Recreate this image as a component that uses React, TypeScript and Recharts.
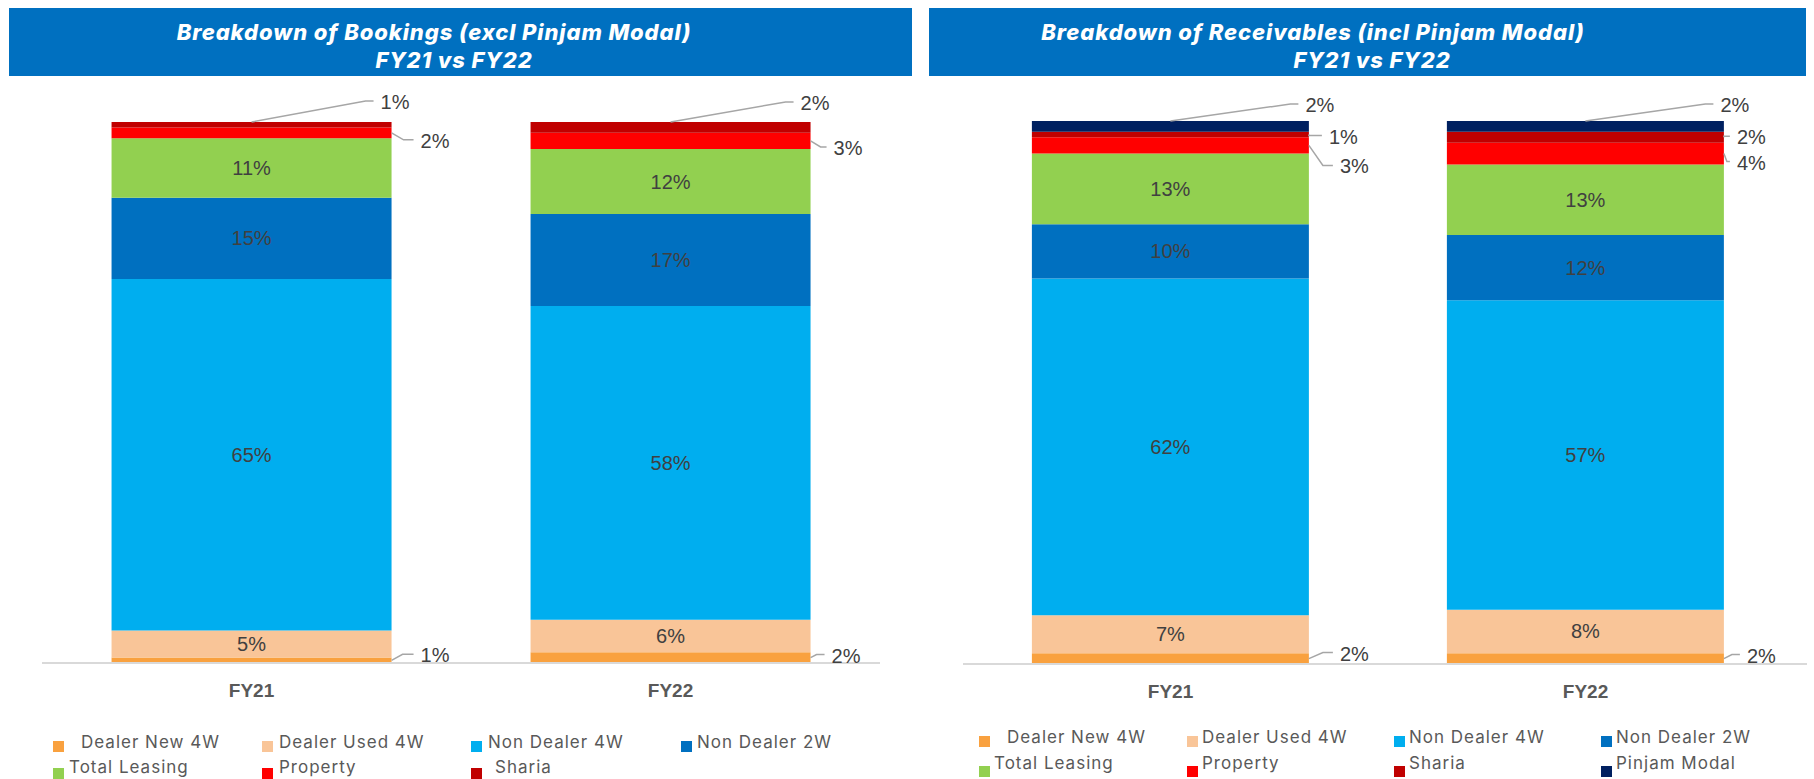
import React from "react";
import { BarChart, Bar, XAxis, YAxis, LabelList } from "recharts";

const categories = ["FY21", "FY22"];

// Breakdown of Bookings (excl Pinjam Modal), % share
const bkDealerNew = [1, 2];
const bkDealerUsed = [5, 6];
const bkNonDealer4W = [65, 58];
const bkNonDealer2W = [15, 17];
const bkLeasing = [11, 12];
const bkProperty = [2, 3];
const bkSharia = [1, 2];

// Breakdown of Receivables (incl Pinjam Modal), % share
const rcDealerNew = [2, 2];
const rcDealerUsed = [7, 8];
const rcNonDealer4W = [62, 57];
const rcNonDealer2W = [10, 12];
const rcLeasing = [13, 13];
const rcProperty = [3, 4];
const rcSharia = [1, 2];
const rcPinjam = [2, 2];

type Series = { key: string; name: string; color: string };

const SERIES: Series[] = [
  { key: "dealerNew", name: "Dealer New 4W", color: "#F9A13F" },
  { key: "dealerUsed", name: "Dealer Used 4W", color: "#F9C598" },
  { key: "nonDealer4W", name: "Non Dealer 4W", color: "#00AEEF" },
  { key: "nonDealer2W", name: "Non Dealer 2W", color: "#0070C0" },
  { key: "leasing", name: "Total Leasing", color: "#92D050" },
  { key: "property", name: "Property", color: "#FF0000" },
  { key: "sharia", name: "Sharia", color: "#C00000" },
  { key: "pinjam", name: "Pinjam Modal", color: "#002060" },
];

const bookingsData = categories.map((cat, i) => ({
  cat,
  dealerNew: bkDealerNew[i],
  dealerUsed: bkDealerUsed[i],
  nonDealer4W: bkNonDealer4W[i],
  nonDealer2W: bkNonDealer2W[i],
  leasing: bkLeasing[i],
  property: bkProperty[i],
  sharia: bkSharia[i],
}));

const receivablesData = categories.map((cat, i) => ({
  cat,
  dealerNew: rcDealerNew[i],
  dealerUsed: rcDealerUsed[i],
  nonDealer4W: rcNonDealer4W[i],
  nonDealer2W: rcNonDealer2W[i],
  leasing: rcLeasing[i],
  property: rcProperty[i],
  sharia: rcSharia[i],
  pinjam: rcPinjam[i],
}));

// leader lines for the thin segments: start at bar top centre or bar right edge
type Callout = { from: "top" | "right"; dx: number; dy: number; len: number };

const bookingCallouts: Record<string, Callout[]> = {
  dealerNew: [
    { from: "right", dx: 11, dy: -6, len: 11 },
    { from: "right", dx: 6, dy: -3, len: 8 },
  ],
  property: [
    { from: "right", dx: 12, dy: 7, len: 10 },
    { from: "right", dx: 10, dy: 6, len: 6 },
  ],
  sharia: [
    { from: "top", dx: 114, dy: -21, len: 8 },
    { from: "top", dx: 115, dy: -20, len: 8 },
  ],
};

const receivableCallouts: Record<string, Callout[]> = {
  dealerNew: [
    { from: "right", dx: 14, dy: -6, len: 10 },
    { from: "right", dx: 8, dy: -4, len: 8 },
  ],
  property: [
    { from: "right", dx: 14, dy: 20, len: 10 },
    { from: "right", dx: 3, dy: 8, len: 3 },
  ],
  sharia: [
    { from: "right", dx: 0, dy: 1, len: 13 },
    { from: "right", dx: 0, dy: -1, len: 6 },
  ],
  pinjam: [
    { from: "top", dx: 120, dy: -17, len: 8 },
    { from: "top", dx: 120, dy: -17, len: 8 },
  ],
};

const labelStyle: React.CSSProperties = {
  fontFamily: "'Liberation Sans', Arial, sans-serif",
  fontSize: 20,
  fill: "#404040",
};

function makeLabel(callouts?: Callout[]) {
  return (props: any) => {
    const vb = props.viewBox || {};
    const x0 = vb.x ?? props.x;
    const y0 = vb.y ?? props.y;
    const w = vb.width ?? props.width;
    const h0 = vb.height ?? props.height;
    const y = Math.min(y0, y0 + h0);
    const h = Math.abs(h0);
    const v = Number(props.value);
    if (v >= 5) {
      return (
        <text
          x={x0 + w / 2}
          y={y + h / 2}
          textAnchor="middle"
          dominantBaseline="central"
          style={labelStyle}
        >
          {v}%
        </text>
      );
    }
    const c = callouts?.[props.index];
    if (!c) return null;
    const sx = c.from === "top" ? x0 + w / 2 : x0 + w;
    const sy = c.from === "top" ? y : y + h / 2;
    const ex = sx + c.dx;
    const ey = sy + c.dy;
    return (
      <g>
        <polyline
          points={`${sx},${sy} ${ex},${ey} ${ex + c.len},${ey}`}
          fill="none"
          stroke="#A6A6A6"
          strokeWidth={1.5}
        />
        <text x={ex + c.len + 7} y={ey + 1} dominantBaseline="central" style={labelStyle}>
          {v}%
        </text>
      </g>
    );
  };
}

function CatTick(props: any) {
  return (
    <text
      x={props.x}
      y={props.y + 26}
      textAnchor="middle"
      style={{
        fontFamily: "'Liberation Sans', Arial, sans-serif",
        fontSize: 19,
        fontWeight: 700,
        fill: "#595959",
      }}
    >
      {props.payload.value}
    </text>
  );
}

type PanelProps = {
  data: any[];
  keys: string[];
  callouts: Record<string, Callout[]>;
  left: number;
  width: number;
  margin: { top: number; right: number; bottom: number; left: number };
  padRight: number;
};

function StackPanel({ data, keys, callouts, left, width, margin, padRight }: PanelProps) {
  return (
    <div style={{ position: "absolute", left, top: 0 }}>
      <BarChart width={width} height={779} data={data} margin={margin} barCategoryGap="16.6%">
        <XAxis
          dataKey="cat"
          height={30}
          axisLine={{ stroke: "#D9D9D9", strokeWidth: 2 }}
          tickLine={false}
          tick={<CatTick />}
          padding={{ left: 0, right: padRight }}
        />
        <YAxis hide domain={[0, 100]} />
        {SERIES.filter((s) => keys.includes(s.key)).map((s) => (
          <Bar key={s.key} dataKey={s.key} name={s.name} stackId="a" fill={s.color} isAnimationActive={false}>
            <LabelList dataKey={s.key} content={makeLabel(callouts[s.key])} />
          </Bar>
        ))}
      </BarChart>
    </div>
  );
}

const titleFont: React.CSSProperties = {
  position: "absolute",
  width: 700,
  textAlign: "center",
  color: "#FFFFFF",
  fontFamily: "Inter, 'Open Sans', sans-serif",
  fontStyle: "italic",
  fontWeight: 800,
  fontSize: 22,
  letterSpacing: 0.9,
  lineHeight: "24px",
  whiteSpace: "nowrap",
};

function TitleBar({ x, w, line1, c1, c2 }: { x: number; w: number; line1: string; c1: number; c2: number }) {
  return (
    <>
      <div style={{ position: "absolute", left: x, top: 8, width: w, height: 68, background: "#0070C0" }} />
      <div style={{ ...titleFont, left: c1 - 350, top: 20 }}>{line1}</div>
      <div style={{ ...titleFont, left: c2 - 350, top: 48 }}>FY21 vs FY22</div>
    </>
  );
}

type LegendItem = { key: string; col: number; row: number; off: number };

function LegendBlock({
  items,
  cols,
  rows,
}: {
  items: LegendItem[];
  cols: number[];
  rows: { text: number; sq: number }[];
}) {
  return (
    <>
      {items.map((it) => {
        const s = SERIES.find((q) => q.key === it.key)!;
        const x = cols[it.col];
        const r = rows[it.row];
        return (
          <React.Fragment key={it.key}>
            <div style={{ position: "absolute", left: x, top: r.sq, width: 11, height: 11, background: s.color }} />
            <div
              style={{
                position: "absolute",
                left: x + it.off,
                top: r.text - 11,
                lineHeight: "22px",
                fontFamily: "Inter, 'Open Sans', sans-serif",
                fontSize: 17,
                letterSpacing: 1,
                color: "#595959",
                whiteSpace: "nowrap",
              }}
            >
              {s.name}
            </div>
          </React.Fragment>
        );
      })}
    </>
  );
}

const leftLegend: LegendItem[] = [
  { key: "dealerNew", col: 0, row: 0, off: 28 },
  { key: "dealerUsed", col: 1, row: 0, off: 17 },
  { key: "nonDealer4W", col: 2, row: 0, off: 17 },
  { key: "nonDealer2W", col: 3, row: 0, off: 16 },
  { key: "leasing", col: 0, row: 1, off: 16 },
  { key: "property", col: 1, row: 1, off: 17 },
  { key: "sharia", col: 2, row: 1, off: 24 },
];

const rightLegend: LegendItem[] = [
  { key: "dealerNew", col: 0, row: 0, off: 28 },
  { key: "dealerUsed", col: 1, row: 0, off: 15 },
  { key: "nonDealer4W", col: 2, row: 0, off: 15 },
  { key: "nonDealer2W", col: 3, row: 0, off: 15 },
  { key: "leasing", col: 0, row: 1, off: 15 },
  { key: "property", col: 1, row: 1, off: 15 },
  { key: "sharia", col: 2, row: 1, off: 15 },
  { key: "pinjam", col: 3, row: 1, off: 15 },
];

export default function App() {
  return (
    <div
      style={{
        position: "absolute",
        left: 0,
        top: 0,
        width: 1814,
        height: 779,
        background: "#FFFFFF",
        overflow: "hidden",
      }}
    >
      <StackPanel
        data={bookingsData}
        keys={["dealerNew", "dealerUsed", "nonDealer4W", "nonDealer2W", "leasing", "property", "sharia"]}
        callouts={bookingCallouts}
        left={0}
        width={920}
        margin={{ top: 122, right: 40, bottom: 86, left: 42 }}
        padRight={0}
      />
      <StackPanel
        data={receivablesData}
        keys={SERIES.map((s) => s.key)}
        callouts={receivableCallouts}
        left={920}
        width={894}
        margin={{ top: 121, right: 7, bottom: 85, left: 43 }}
        padRight={14}
      />
      <TitleBar x={9} w={903} line1="Breakdown of Bookings (excl Pinjam Modal)" c1={434} c2={454} />
      <TitleBar x={929} w={877} line1="Breakdown of Receivables (incl Pinjam Modal)" c1={1313} c2={1372} />
      <LegendBlock
        items={leftLegend}
        cols={[53, 262, 471, 681]}
        rows={[
          { text: 742, sq: 741 },
          { text: 767, sq: 768 },
        ]}
      />
      <LegendBlock
        items={rightLegend}
        cols={[979, 1187, 1394, 1601]}
        rows={[
          { text: 737, sq: 736 },
          { text: 763, sq: 766 },
        ]}
      />
    </div>
  );
}
